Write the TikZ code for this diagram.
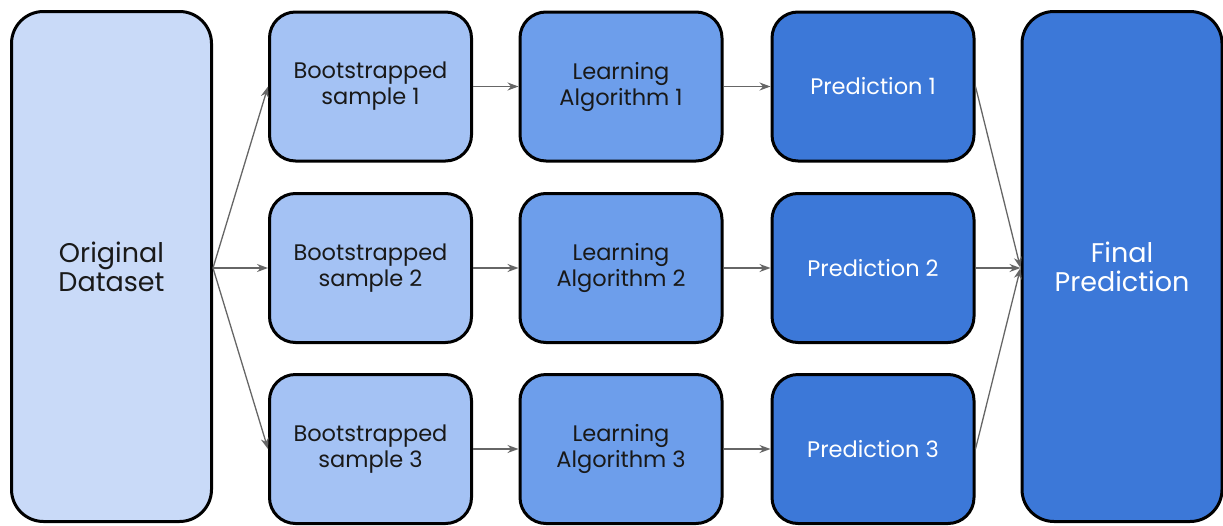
\documentclass[tikz,border=0pt]{standalone}
\usepackage{fontspec}
\setmainfont{Poppins}
\usetikzlibrary{arrows.meta}
\definecolor{c0}{HTML}{C9DAF8}
\definecolor{c1}{HTML}{A4C2F4}
\definecolor{c2}{HTML}{6D9EEB}
\definecolor{c3}{HTML}{3C78D8}
\definecolor{conn}{HTML}{666666}
\tikzset{
  box/.style={draw=black, line width=3pt, rounded corners=26pt, align=center,
    font=\fontsize{22.5}{26}\selectfont, inner sep=0pt, text=black!90},
  tall/.style={box, minimum width=200pt, minimum height=510pt, rounded corners=32pt,
    font=\fontsize{27}{29}\selectfont},
  small/.style={box, minimum width=202pt, minimum height=149pt},
  lite/.style={fill=c1},
  mid/.style={fill=c2},
  dark/.style={fill=c3, text=white},
  link/.style={draw=conn, line width=1.3pt, -{Stealth[length=11pt,width=8pt]}}
}
\begin{document}
\begin{tikzpicture}[x=1pt,y=-1pt]
\useasboundingbox (0,0) rectangle (1223,525);
\node[tall, fill=c0] (orig) at (111.5,266.5) {Original\\Dataset};
\node[tall, dark] (final) at (1122,266.5) {Final\\Prediction};

\node[small, lite] (b1) at (370.5,86.5) {Bootstrapped\\sample 1};
\node[small, lite] (b2) at (370.5,268) {Bootstrapped\\sample 2};
\node[small, lite] (b3) at (370.5,449) {Bootstrapped\\sample 3};

\node[small, mid] (l1) at (621,86.5) {Learning\\Algorithm 1};
\node[small, mid] (l2) at (621,268) {Learning\\Algorithm 2};
\node[small, mid] (l3) at (621,449) {Learning\\Algorithm 3};

\node[small, dark] (p1) at (873,86.5) {Prediction 1};
\node[small, dark] (p2) at (873,268) {Prediction 2};
\node[small, dark] (p3) at (873,449) {Prediction 3};

\coordinate (os) at (orig.east |- b2.west);
\coordinate (fe) at (final.west |- p2.east);

\draw[link] (os) -- (b1.west);
\draw[link] (os) -- (b2.west);
\draw[link] (os) -- (b3.west);
\draw[link] (b1) -- (l1);
\draw[link] (b2) -- (l2);
\draw[link] (b3) -- (l3);
\draw[link] (l1) -- (p1);
\draw[link] (l2) -- (p2);
\draw[link] (l3) -- (p3);
\draw[link] (p1.east) -- (fe);
\draw[link] (p2.east) -- (fe);
\draw[link] (p3.east) -- (fe);
\end{tikzpicture}
\end{document}
